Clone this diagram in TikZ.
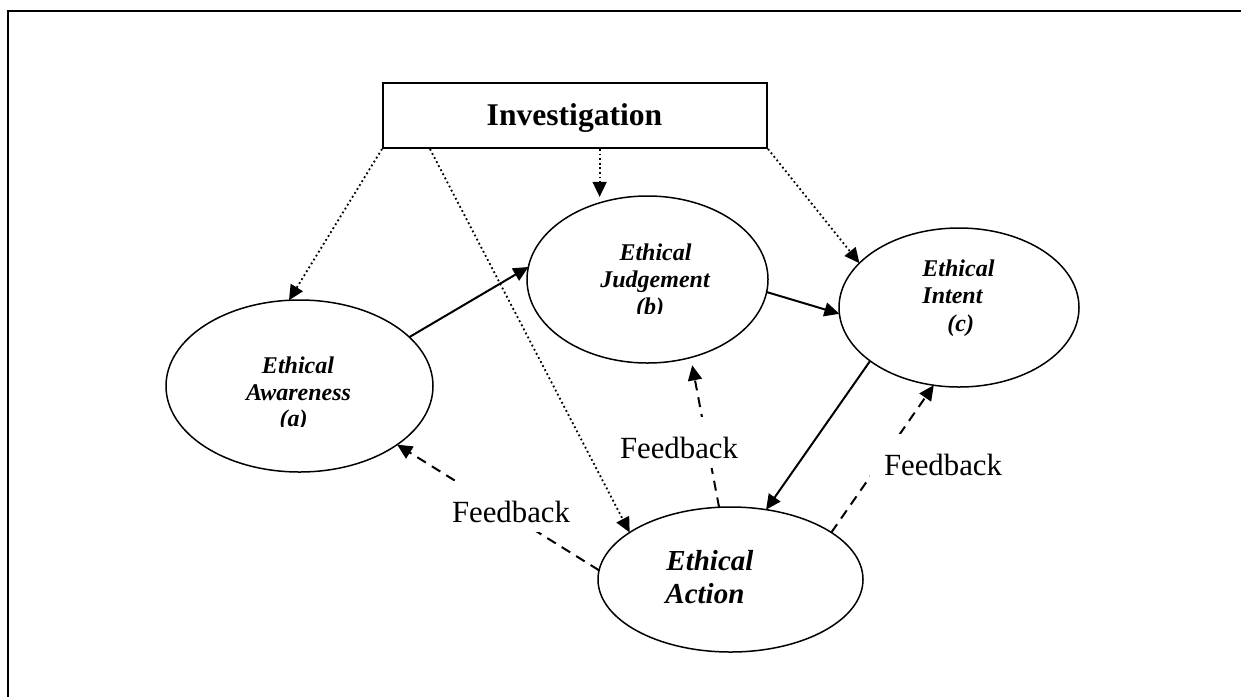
\documentclass[tikz,border=0pt]{standalone}
\usepackage{fontspec}
\setmainfont{Liberation Serif}
\usetikzlibrary{arrows.meta,shapes.geometric,calc}
\begin{document}
\begin{tikzpicture}[x=0.5pt,y=-0.5pt,
  ell/.style={draw,ellipse,line width=0.75pt,inner sep=0,outer sep=0},
  tipend/.style={-{Triangle[length=7.5pt,width=7pt]}},
  solidarr/.style={tipend,line width=1pt},
  dotarr/.style={tipend,line width=0.9pt,dash pattern=on 0.9pt off 1.4pt},
  dasharr/.style={tipend,line width=1pt,dash pattern=on 5pt off 3.5pt},
  elltext/.style={font=\fontsize{12}{14}\selectfont\bfseries\itshape,inner sep=0},
  acttext/.style={font=\fontsize{14.5}{17}\selectfont\bfseries\itshape,inner sep=0,anchor=base west},
  fb/.style={fill=white,font=\fontsize{15.4}{18}\selectfont,inner xsep=7pt,inner ysep=0,text height=20.5pt,text depth=5pt,anchor=base}
]
\useasboundingbox (0,0) rectangle (1241,697);
\draw[line width=1pt] (1241,10.5) -| (7.5,697);

% Investigation box
\node[draw,line width=1pt,minimum width=192pt,minimum height=32.5pt,inner sep=0] (inv) at (575,115.5) {};
\node[font=\fontsize{15.8}{19}\selectfont\bfseries,anchor=base,inner sep=0] (invt) at (574.5,125) {Investigation};

% Ellipses
\node[ell,minimum width=133.5pt,minimum height=86pt] (aw) at (299.5,386) {};
\node[ell,minimum width=120.5pt,minimum height=83.5pt] (ju) at (647.5,279.5) {};
\node[ell,minimum width=120pt,minimum height=79.5pt] (it) at (959,307.5) {};
\node[ell,minimum width=132.5pt,minimum height=72.5pt] (ac) at (730.5,579.5) {};

% Ellipse texts
\node[elltext,anchor=base] (awt1) at (298,373.3) {Ethical};
\node[elltext,anchor=base] (awt2) at (298.5,400) {Awareness};
\begin{scope}
\clip (250,395) rectangle (350,426);
\node[elltext,anchor=base] (awt3) at (293.5,426.7) {(a)};
\end{scope}
\node[elltext,anchor=base] (jut1) at (655.5,260) {Ethical};
\node[elltext,anchor=base] (jut2) at (655,287.3) {Judgement};
\begin{scope}
\clip (600,290) rectangle (700,313.3);
\node[elltext,anchor=base] (jut3) at (650,314.6) {(b)};
\end{scope}
\node[elltext,anchor=base west] (itt1) at (922,276) {Ethical};
\node[elltext,anchor=base west] (itt2) at (922,303) {Intent};
\node[elltext,anchor=base west] (itt3) at (947,331) {(c)};
\node[acttext] (act1) at (666,570) {Ethical};
\node[acttext] (act2) at (665,603.3) {Action};

% Dotted connectors from Investigation
\coordinate (inv1) at ($(inv.south west)+(48,0)$);
\coordinate (inv2) at (ju.122 |- inv.south);
\draw[dotarr] (inv.south west) -- (aw.97);
\draw[dotarr] (inv1) -- (ac.155);
\draw[dotarr,shorten >=3pt] (inv2) -- (ju.122);
\draw[dotarr] (inv.south east) -- (it.156);

% Solid connectors
\draw[solidarr] (aw.24) -- (ju.174);
\draw[solidarr] (ju.-6) -- (it.183);
\draw[solidarr] (it.211) -- (ac.63);

% Feedback connectors
\draw[dasharr] (ac.176) -- (aw.-31);
\draw[dasharr,shorten >=4pt] (ac.99) -- (ju.-61);
\draw[dasharr] (ac.25) -- (it.252);

% Feedback labels
\node[fb] (fb1) at (511,522) {Feedback};
\node[fb] (fb2) at (679,458) {Feedback};
\node[fb] (fb3) at (943,475) {Feedback};
\end{tikzpicture}
\end{document}
